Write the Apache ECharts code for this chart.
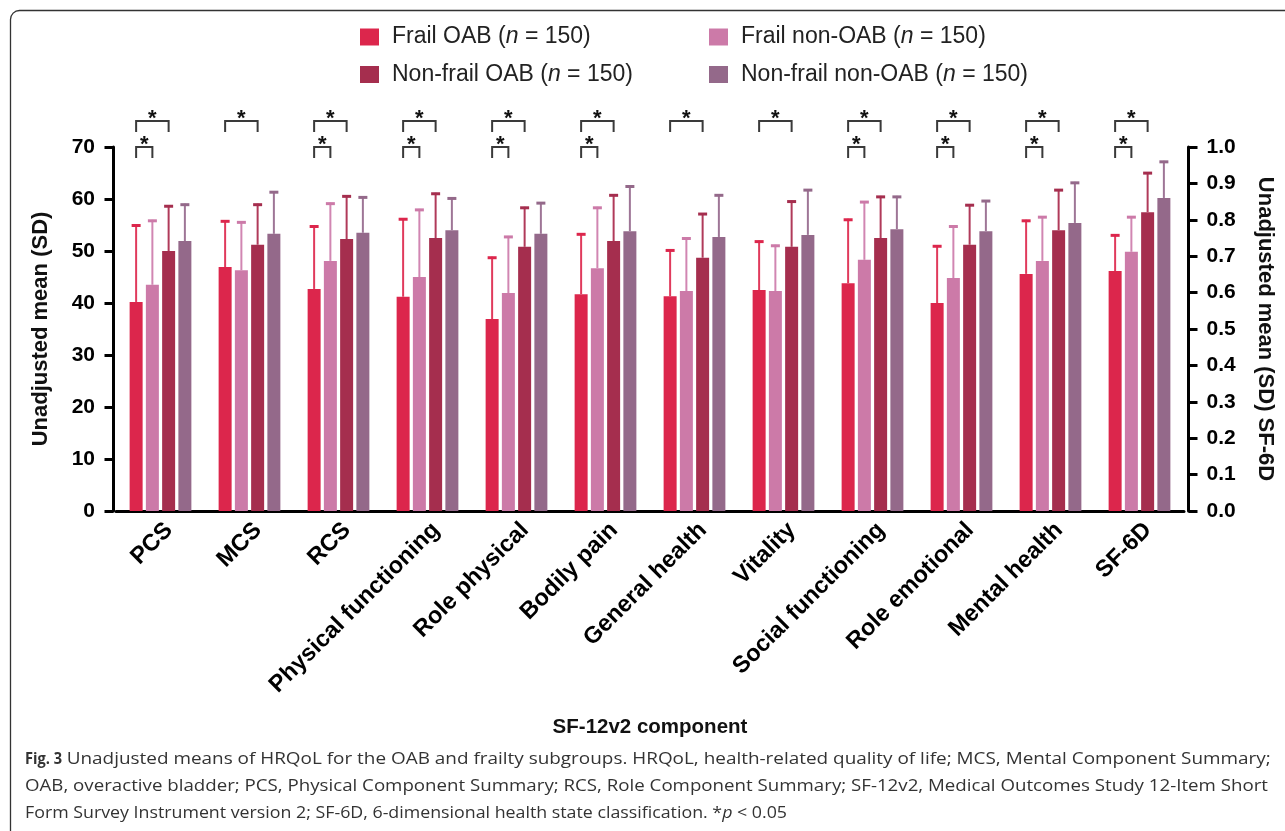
<!DOCTYPE html>
<html><head><meta charset="utf-8">
<script src="https://cdn.jsdelivr.net/npm/echarts@6/dist/echarts.min.js"></script>
<style>html,body{margin:0;padding:0;background:#fff}#c{width:1285px;height:831px}</style>
</head><body><div id="c"></div>
<script>
// ---------- data ----------
const categories = ['PCS','MCS','RCS','Physical functioning','Role physical','Bodily pain','General health','Vitality','Social functioning','Role emotional','Mental health','SF-6D'];
const groupNames = ['Frail OAB','Frail non-OAB','Non-frail OAB','Non-frail non-OAB'];
const groupN = [150,150,150,150];
// SF-12v2 component means (left axis), first 11 categories
const frailOABMean       = [40.2,46.9,42.7,41.2,36.9,41.7,41.3,42.5,43.8,40.0,45.6];
const frailNonOABMean    = [43.5,46.3,48.1,45.0,41.9,46.7,42.3,42.3,48.3,44.8,48.1];
const nonFrailOABMean    = [50.0,51.2,52.3,52.5,50.8,51.9,48.7,50.8,52.5,51.2,54.0];
const nonFrailNonOABMean = [51.9,53.3,53.5,54.0,53.3,53.8,52.7,53.1,54.2,53.8,55.4];
const frailOABSd         = [14.9,9.0,12.2,15.1,12.0,11.7,9.0,9.5,12.4,11.1,10.4];
const frailNonOABSd      = [12.5,9.4,11.2,13.1,11.0,11.8,10.3,8.9,11.3,10.1,8.6];
const nonFrailOABSd      = [8.8,7.9,8.4,8.7,7.7,9.0,8.6,8.9,8.1,7.8,7.9];
const nonFrailNonOABSd   = [7.2,8.2,7.0,6.3,6.1,8.8,8.2,8.8,6.4,6.0,7.9];
// SF-6D (right axis), one value per group
const sf6dMean = [0.659,0.712,0.821,0.860];
const sf6dSd   = [0.101,0.098,0.110,0.102];
// significance brackets (*p<0.05): category indices
const sigFrailOABvsNonFrailOAB = [0,1,2,3,4,5,6,7,8,9,10,11];
const sigFrailOABvsFrailNonOAB = [0,2,3,4,5,8,9,10,11];

// ---------- style ----------
const colors = ['#DC264C','#CC7AA8','#A52E4E','#94698A'];
const errColors = ['#E03A5C','#D186B2','#B03A5A','#9E7596'];
const FONT = '"Liberation Sans", Arial, sans-serif';
const BAR_W = 13, BAR_GAP = '25%';
const means = [frailOABMean, frailNonOABMean, nonFrailOABMean, nonFrailNonOABMean];
const sds = [frailOABSd, frailNonOABSd, nonFrailOABSd, nonFrailNonOABSd];
const sfIdx = categories.length - 1;

const series = [];
means.forEach((m, g) => {
  series.push({
    name: groupNames[g], type: 'bar', xAxisIndex: 0, yAxisIndex: 0,
    barWidth: BAR_W, barGap: BAR_GAP, itemStyle: {color: colors[g]},
    data: m.concat(['-']), z: 2
  });
});
means.forEach((m, g) => {
  const d = categories.map((c, i) => i === sfIdx ? sf6dMean[g] : '-');
  series.push({
    name: groupNames[g], type: 'bar', xAxisIndex: 1, yAxisIndex: 1,
    barWidth: BAR_W, barGap: BAR_GAP, itemStyle: {color: colors[g]},
    data: d, z: 2
  });
});
function errRender(g) {
  return function (params, api) {
    const lay = api.barLayout({barWidth: BAR_W, barGap: BAR_GAP, count: 4});
    const off = lay[g].offsetCenter;
    const p0 = api.coord([api.value(0), api.value(1)]);
    const p1 = api.coord([api.value(0), api.value(2)]);
    const x = p0[0] + off;
    return {type: 'group', children: [
      {type: 'line', shape: {x1: x, y1: p0[1], x2: x, y2: p1[1]}, style: {stroke: errColors[g], lineWidth: 2}},
      {type: 'line', shape: {x1: x - 4.5, y1: p1[1] + 1, x2: x + 4.5, y2: p1[1] + 1}, style: {stroke: colors[g], lineWidth: 3}}
    ]};
  };
}
means.forEach((m, g) => {
  series.push({
    type: 'custom', name: groupNames[g] + ' SD', xAxisIndex: 0, yAxisIndex: 0, z: 3,
    renderItem: errRender(g),
    data: m.map((v, i) => [i, v, +(v + sds[g][i]).toFixed(2)])
  });
  series.push({
    type: 'custom', name: groupNames[g] + ' SD6', xAxisIndex: 1, yAxisIndex: 1, z: 3,
    renderItem: errRender(g),
    data: [[sfIdx, sf6dMean[g], +(sf6dMean[g] + sf6dSd[g]).toFixed(3)]]
  });
});
// brackets
const bracketData = sigFrailOABvsNonFrailOAB.map(i => [i, 1]).concat(sigFrailOABvsFrailNonOAB.map(i => [i, 0]));
series.push({
  type: 'custom', name: 'sig', xAxisIndex: 0, yAxisIndex: 0, z: 4, silent: true,
  renderItem: function (params, api) {
    const lay = api.barLayout({barWidth: BAR_W, barGap: BAR_GAP, count: 4});
    const far = api.value(1) === 1;
    const top = api.coord([api.value(0), far ? 75 : 70]);
    const bot = api.coord([api.value(0), far ? 72.9 : 67.9]);
    const xa = top[0] + lay[0].offsetCenter;
    const xb = top[0] + lay[far ? 2 : 1].offsetCenter;
    return {type: 'group', children: [
      {type: 'polyline', shape: {points: [[xa, bot[1]], [xa, top[1]], [xb, top[1]], [xb, bot[1]]]},
       style: {stroke: '#3a3a3a', lineWidth: 2, fill: 'none'}},
      {type: 'text', style: {text: '*', x: (xa + xb) / 2, y: top[1] + 9, align: 'center', verticalAlign: 'bottom',
        font: 'bold 22px ' + FONT, fill: '#111'}}
    ]};
  },
  data: bracketData
});

const LEG_FS = 23;
const legendFmt = name => '{s|}' + name + ' ({i|n} = ' + groupN[groupNames.indexOf(name)] + ')';
const legendText = {fontSize: LEG_FS, fontFamily: FONT, color: '#222',
  rich: {s: {width: 8}, i: {fontStyle: 'italic', fontSize: LEG_FS, fontFamily: FONT, color: '#222'}}};

// caption
const capFont = '"Open Sans", "Noto Sans", sans-serif';
const capSize = 16;
function measure(t, weight, style) {
  const ctx = document.createElement('canvas').getContext('2d');
  ctx.font = (style || 'normal') + ' ' + (weight || 'normal') + ' ' + capSize + 'px ' + capFont;
  return ctx.measureText(t).width;
}
const cap1a = 'Fig. 3';
const cap1b = 'Unadjusted means of HRQoL for the OAB and frailty subgroups. HRQoL, health-related quality of life; MCS, Mental Component Summary;';
const cap2 = 'OAB, overactive bladder; PCS, Physical Component Summary; RCS, Role Component Summary; SF-12v2, Medical Outcomes Study 12-Item Short';
const cap3a = 'Form Survey Instrument version 2; SF-6D, 6-dimensional health state classification. *';
const cap3b = 'p';
const cap3c = ' < 0.05';
const s1a = 37 / measure(cap1a, 'bold');
const s1b = 1204 / measure(cap1b);
const s2 = 1243 / measure(cap2);
const s3 = 762 / (measure(cap3a) + measure(cap3b, 'normal', 'italic') + measure(cap3c));
const capStyle = (t, w, st) => ({text: t, font: (st || 'normal') + ' ' + (w || 'normal') + ' ' + capSize + 'px ' + capFont, fill: '#333', verticalAlign: 'middle'});

const chart = echarts.init(document.getElementById('c'), null, {renderer: 'canvas'});
chart.setOption({
  animation: false,
  backgroundColor: '#fff',
  grid: {left: 116, right: 101, top: 147, bottom: 320, containLabel: false},
  legend: [
    {left: 360, top: 25.5, padding: 0, orient: 'vertical', itemWidth: 19, itemHeight: 17, itemGap: 14.5, icon: 'rect',
     data: [groupNames[0], groupNames[2]], formatter: legendFmt, textStyle: legendText, selectedMode: false},
    {left: 709, top: 25.5, padding: 0, orient: 'vertical', itemWidth: 19, itemHeight: 17, itemGap: 14.5, icon: 'rect',
     data: [groupNames[1], groupNames[3]], formatter: legendFmt, textStyle: legendText, selectedMode: false}
  ],
  xAxis: [
    {type: 'category', data: categories, gridIndex: 0,
     axisLine: {lineStyle: {color: '#000', width: 3}}, axisTick: {show: false},
     axisLabel: {interval: 0, rotate: 45, margin: 7, verticalAlign: 'top', color: '#000', fontSize: 23.5, fontWeight: 'bold', fontFamily: FONT},
     name: 'SF-12v2 component', nameLocation: 'middle', nameGap: 206,
     nameTextStyle: {fontSize: 20.5, fontWeight: 'bold', fontFamily: FONT, color: '#111'}},
    {type: 'category', data: categories, gridIndex: 0, show: false}
  ],
  yAxis: [
    {type: 'value', min: 0, max: 70, interval: 10, offset: 2.5,
     axisLine: {show: true, lineStyle: {color: '#000', width: 3}},
     axisTick: {show: true, length: 9, lineStyle: {width: 3, color: '#000'}},
     splitLine: {show: false},
     axisLabel: {margin: 18.5, color: '#000', fontSize: 21, fontWeight: 'bold', fontFamily: FONT},
     name: 'Unadjusted mean (SD)', nameLocation: 'middle', nameGap: 62, nameRotate: 90,
     nameTextStyle: {fontSize: 22, fontWeight: 'bold', fontFamily: FONT, color: '#111'}},
    {type: 'value', min: 0, max: 1, interval: 0.1, offset: 4.5, position: 'right',
     axisLine: {show: true, lineStyle: {color: '#000', width: 3}},
     axisTick: {show: true, length: 9, lineStyle: {width: 3, color: '#000'}},
     splitLine: {show: false},
     axisLabel: {margin: 18, color: '#000', fontSize: 21, fontWeight: 'bold', fontFamily: FONT,
       formatter: v => v.toFixed(1)},
     name: 'Unadjusted mean (SD) SF-6D', nameLocation: 'middle', nameGap: 66, nameRotate: -90,
     nameTextStyle: {fontSize: 22, fontWeight: 'bold', fontFamily: FONT, color: '#111'}}
  ],
  series: series,
  graphic: [
    {type: 'rect', z: -10, silent: true, shape: {x: 10.5, y: 10.5, width: 1400, height: 900, r: 9},
     style: {fill: 'none', stroke: '#333', lineWidth: 1.3}},
    {type: 'text', x: 25, y: 759, scaleX: s1a, style: capStyle(cap1a, 'bold')},
    {type: 'text', x: 66.7, y: 759, scaleX: s1b, style: capStyle(cap1b)},
    {type: 'text', x: 25, y: 786, scaleX: s2, style: capStyle(cap2)},
    {type: 'text', x: 25, y: 813, scaleX: s3, style: capStyle(cap3a)},
    {type: 'text', x: 25 + measure(cap3a) * s3, y: 813, scaleX: s3, style: capStyle(cap3b, 'normal', 'italic')},
    {type: 'text', x: 25 + (measure(cap3a) + measure(cap3b, 'normal', 'italic')) * s3, y: 813, scaleX: s3, style: capStyle(cap3c)}
  ]
});
</script></body></html>
